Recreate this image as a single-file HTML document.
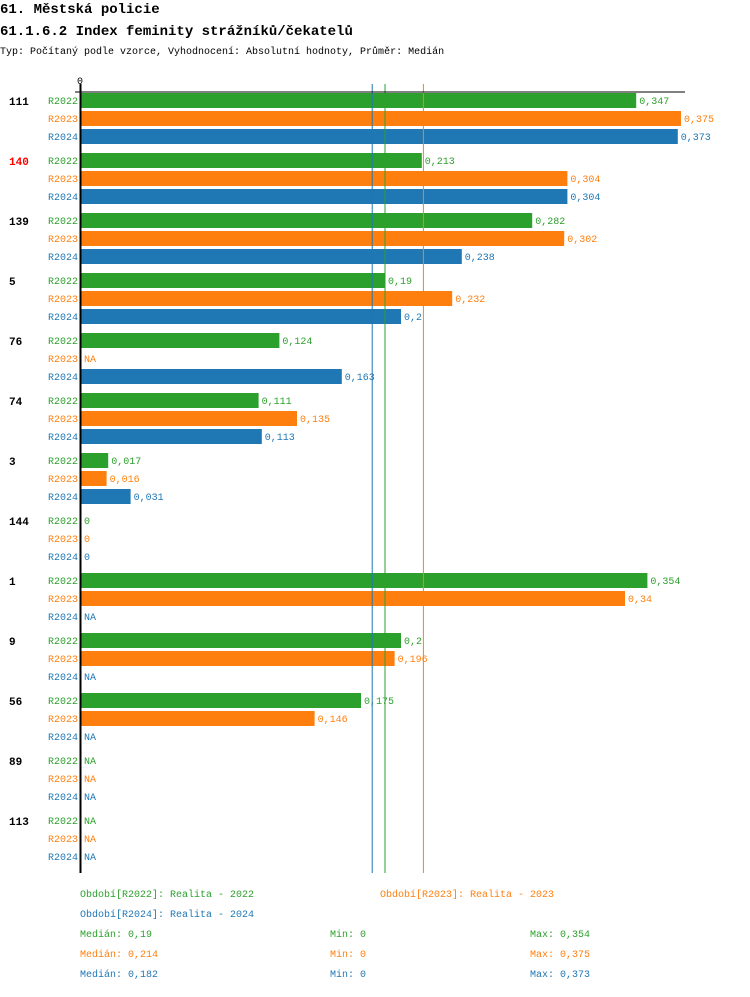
<!DOCTYPE html>
<html><head><meta charset="utf-8"><style>
body{margin:0;background:#fff;width:750px;height:992px;overflow:hidden;font-family:"Liberation Mono","DejaVu Sans Mono",monospace;}
svg text{font-family:"Liberation Mono","DejaVu Sans Mono",monospace;}
</style></head><body>
<svg id="c" width="750" height="992" xmlns="http://www.w3.org/2000/svg">
<text x="0" y="13" font-size="14" font-weight="bold">61. Městská policie</text>
<text x="0" y="35" font-size="14" font-weight="bold">61.1.6.2 Index feminity strážníků/čekatelů</text>
<text x="0" y="54" font-size="10">Typ: Počítaný podle vzorce, Vyhodnocení: Absolutní hodnoty, Průměr: Medián</text>
<g id="g"></g>
</svg>
<script>
const groups=["111","140","139","5","76","74","3","144","1","9","56","89","113"];
const highlight=["140"];
const series=["R2022","R2023","R2024"];
const colors=["#2ca02c","#ff7f0e","#1f77b4"];
const v2022=[0.347,0.213,0.282,0.19,0.124,0.111,0.017,0,0.354,0.2,0.175,null,null];
const v2023=[0.375,0.304,0.302,0.232,null,0.135,0.016,0,0.34,0.196,0.146,null,null];
const v2024=[0.373,0.304,0.238,0.2,0.163,0.113,0.031,0,null,null,null,null,null];
const medians=[0.19,0.214,0.182];
const mins=[0,0,0];
const maxs=[0.354,0.375,0.373];
const vals=[v2022,v2023,v2024];
const NS="http://www.w3.org/2000/svg";
const g=document.getElementById('g');
const x=v=>81+v*1600;
const top0=93;
function el(t,a,txt){const e=document.createElementNS(NS,t);for(const k in a)e.setAttribute(k,a[k]);if(txt!==undefined)e.textContent=txt;g.appendChild(e);return e;}
const fmt=v=>String(v).replace('.',',');
groups.forEach((gr,i)=>{
  const gy=top0+i*60;
  const t=el('text',{x:9,y:gy+12,'font-size':11,'font-weight':'bold',fill:highlight.includes(gr)?'#ff0000':'#000'},gr);
  
  
  series.forEach((s,j)=>{
    const y=gy+j*18;
    const l=el('text',{x:78,y:y+11,'font-size':10,fill:colors[j],'text-anchor':'end'},s);
    
    
    const v=vals[j][i];
    if(v===null){
      const n=el('text',{x:84,y:y+11,'font-size':10,fill:colors[j]},'NA');
      
      
    } else {
      if(v>0){const r=el('rect',{x:81,y:y,width:x(v)-81,height:15,fill:colors[j]});
      
      }
      const tv=el('text',{x:x(v)+3,y:y+11,'font-size':10,fill:colors[j]},fmt(v));
      
      
    }
  });
});
// median lines
[[2,medians[2]],[0,medians[0]],[1,medians[1]]].forEach(([j,m])=>{
  const ln=el('line',{x1:x(m),x2:x(m),y1:84,y2:873,stroke:colors[j],'stroke-width':1});
  
  
});
const ax=el('line',{x1:80.5,x2:80.5,y1:84,y2:873,stroke:'#000','stroke-width':2});


const tl=el('line',{x1:75,x2:685,y1:92,y2:92,stroke:'#000','stroke-width':1});


const z=el('text',{x:80,y:84,'font-size':10,'text-anchor':'middle'},'0');


// legend
const leg=[[80,897,0,'Období[R2022]: Realita - 2022'],[380,897,1,'Období[R2023]: Realita - 2023'],[80,917,2,'Období[R2024]: Realita - 2024']];
leg.forEach(([lx,ly,j,t])=>{const e=el('text',{x:lx,y:ly,'font-size':10,fill:colors[j]},t);

});
series.forEach((s,j)=>{const y=937+j*20;
const a=el('text',{x:80,y:y,'font-size':10,fill:colors[j]},'Medián: '+fmt(medians[j]));


const b=el('text',{x:330,y:y,'font-size':10,fill:colors[j]},'Min: '+fmt(mins[j]));


const c=el('text',{x:530,y:y,'font-size':10,fill:colors[j]},'Max: '+fmt(maxs[j]));

});
</script>
</body></html>
